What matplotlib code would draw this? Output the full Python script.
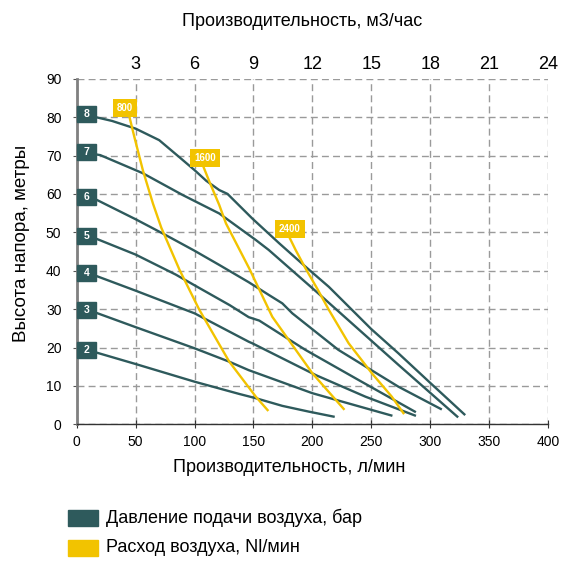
import matplotlib
matplotlib.use("Agg")
import matplotlib.pyplot as plt
from matplotlib.patches import Rectangle

plt.rcParams["font.family"] = ["Liberation Sans", "DejaVu Sans"]

# pump curves, head (m) vs flow (l/min), one per air supply pressure (bar)
pressures = [8, 7, 6, 5, 4, 3, 2]

p8_x = [16, 30, 50, 70, 87, 100, 110, 121, 128, 149, 172, 194, 214, 250, 273, 300, 329]
p8_y = [80, 79, 77.0, 74.0, 69.6, 66.2, 63.4, 61.0, 60.0, 53.6, 47.1, 41.1, 35.8, 24.8, 18.5, 10.8, 2.6]

p7_x = [16, 20, 56, 90, 121, 152, 163, 205, 273, 323]
p7_y = [70.3, 70.1, 65.4, 59.7, 54.9, 48.0, 45.4, 34.1, 15.5, 2.0]

p6_x = [16, 50, 73, 100, 121, 146, 163, 174.5, 183, 222, 273, 309]
p6_y = [58.6, 53.4, 49.7, 45.2, 41.5, 37.0, 33.7, 31.5, 28.9, 19.4, 9.8, 4.0]

p5_x = [16, 50, 84, 100, 130, 146, 152, 155, 194, 240, 287]
p5_y = [48.4, 44.2, 39.0, 36.2, 31.0, 27.9, 27.3, 27.0, 19.4, 11.4, 3.3]

p4_x = [16, 50, 100, 146, 149, 203, 245, 287]
p4_y = [38.7, 34.8, 28.9, 21.5, 21.1, 12.8, 7.2, 2.3]

p3_x = [16, 50, 100, 129.5, 146, 200, 230, 267]
p3_y = [29.1, 25.3, 19.8, 16.3, 14.1, 8.1, 5.5, 2.3]

p2_x = [16, 50, 100, 138, 152, 174.5, 197, 218]
p2_y = [18.75, 15.7, 11.1, 7.9, 6.8, 4.8, 3.3, 2.0]

# air consumption lines, Nl/min
air_flows = [800, 1600, 2400]

a800_x = [44.5, 49.2, 56.3, 64.7, 71.8, 87.3, 104.1, 129.5, 152, 162]
a800_y = [80.4, 74.5, 66.0, 57.5, 51.2, 40.2, 29.8, 16.3, 7.2, 3.7]

a1600_x = [107, 112.6, 121, 126.7, 146.4, 166, 200, 226.6]
a1600_y = [67.5, 63.2, 57.1, 52.3, 40.6, 28.0, 13.3, 4.0]

a2400_x = [180.2, 185.8, 194.2, 204, 214, 230.8, 250.5, 267.4, 277.3]
a2400_y = [48.9, 45.4, 40.6, 35.4, 29.8, 21.1, 13.3, 7.2, 2.9]

top_ticks = [3, 6, 9, 12, 15, 18, 21, 24]  # m3/h

TEAL = "#2E5A5C"
YELLOW = "#F2C300"

fig = plt.figure(figsize=(5.84, 5.72), dpi=100)
ax = fig.add_axes([76.7 / 584, 1 - 424.3 / 572, (548 - 76.7) / 584, (424.3 - 78.7) / 572])
ax.set_xlim(0, 400)
ax.set_ylim(0, 90)
ax.set_xticks(range(0, 401, 50))
ax.set_yticks(range(0, 91, 10))
ax.grid(True, linestyle=(0, (5, 3)), color="#9a9a9a", linewidth=1)
ax.set_axisbelow(True)

for s in ["top", "right"]:
    ax.spines[s].set_visible(False)
ax.spines["left"].set_color("#808080")
ax.spines["left"].set_linewidth(2)
ax.spines["bottom"].set_color("#333333")
ax.spines["bottom"].set_linewidth(1)
ax.tick_params(axis="y", direction="out", length=3, color="#555555", labelsize=10, pad=8)
ax.tick_params(axis="x", direction="inout", length=6, color="#333333", labelsize=10, pad=5)

curves = [(p8_x, p8_y), (p7_x, p7_y), (p6_x, p6_y), (p5_x, p5_y),
          (p4_x, p4_y), (p3_x, p3_y), (p2_x, p2_y)]
for p, (xs, ys) in zip(pressures, curves):
    ax.plot(xs, ys, color=TEAL, linewidth=1.7, zorder=3)
    ax.add_patch(Rectangle((0.5, ys[0] + 0.7 - 2.1), 15.8, 4.2, color=TEAL, zorder=4, clip_on=False))
    ax.text(8.4, ys[0] + 0.7, str(p), color="white", fontsize=7.5, fontweight="bold",
            ha="center", va="center", zorder=5)

air = [(a800_x, a800_y), (a1600_x, a1600_y), (a2400_x, a2400_y)]
label_dx = [-3.3, 2.0, 0.8]
for q, (xs, ys), dx in zip(air_flows, air, label_dx):
    ax.plot(xs, ys, color=YELLOW, linewidth=1.7, zorder=3)
    ax.text(xs[0] + dx, ys[0] + 1.9, str(q), color="white", fontsize=7, fontweight="bold",
            ha="center", va="center", zorder=5,
            bbox=dict(boxstyle="square,pad=0.4", facecolor=YELLOW, edgecolor="none"))

sec = ax.secondary_xaxis("top", functions=(lambda x: x * 60 / 1000, lambda q: q * 1000 / 60))
sec.set_xticks(top_ticks)
sec.tick_params(length=0, labelsize=13, pad=4)
sec.spines["top"].set_visible(False)

fig.text(302 / 584, 1 - 22 / 572, "Производительность, м3/час", ha="center", va="center", fontsize=13)
fig.text(289 / 584, 1 - 468 / 572, "Производительность, л/мин", ha="center", va="center", fontsize=13)
fig.text(22 / 584, 1 - 243 / 572, "Высота напора, метры", ha="center", va="center",
         rotation=90, fontsize=13.5)

# legend drawn by hand to match the layout
fig.patches.append(Rectangle((68 / 584, 1 - 526 / 572), 30 / 584, 16 / 572,
                             transform=fig.transFigure, color=TEAL))
fig.patches.append(Rectangle((68 / 584, 1 - 556 / 572), 30 / 584, 16 / 572,
                             transform=fig.transFigure, color=YELLOW))
fig.text(106 / 584, 1 - 518 / 572, "Давление подачи воздуха, бар", ha="left", va="center", fontsize=13)
fig.text(106 / 584, 1 - 548 / 572, "Расход воздуха, Nl/мин", ha="left", va="center", fontsize=13)

fig.savefig("out.png", dpi=100)
